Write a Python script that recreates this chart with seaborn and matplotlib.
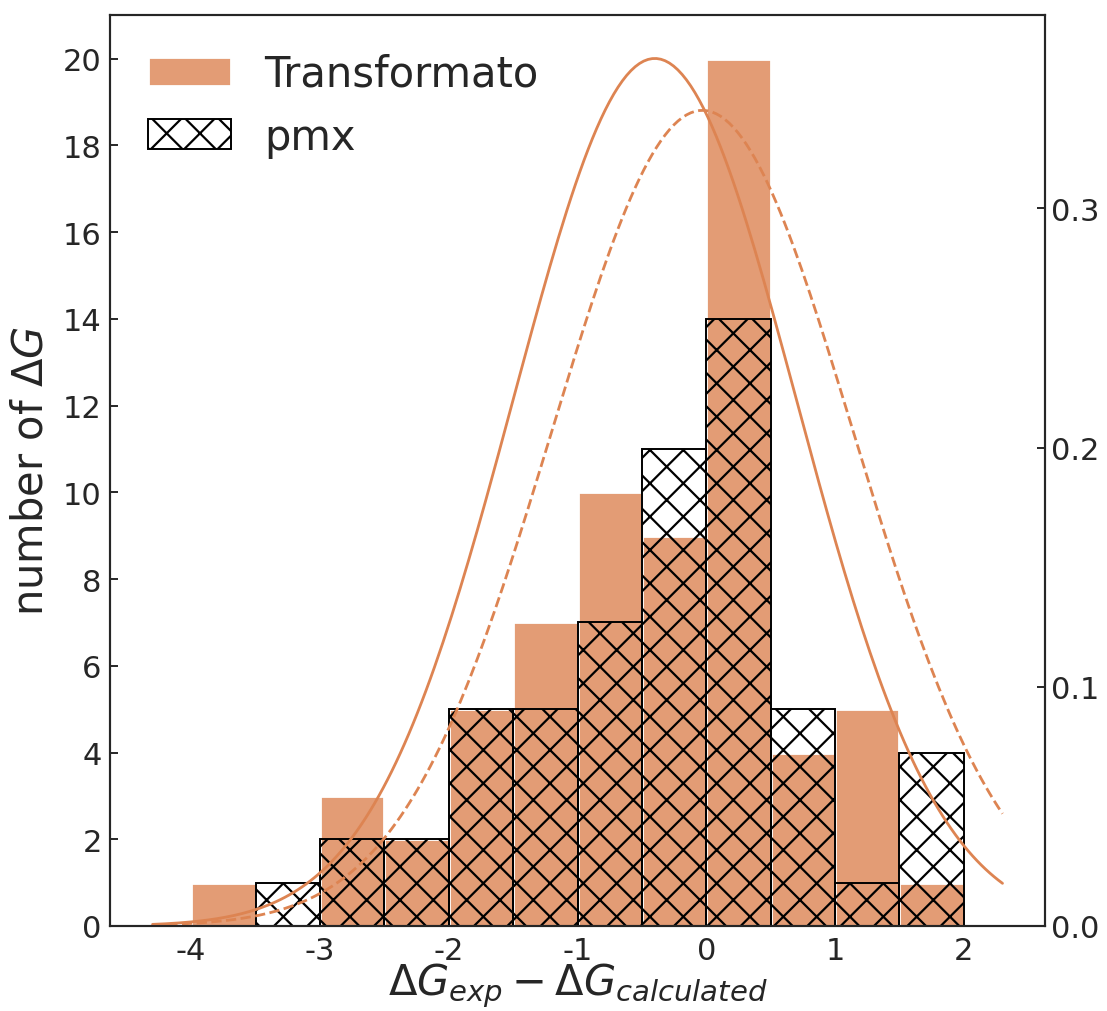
import numpy as np
import matplotlib
matplotlib.use("Agg")
import matplotlib.pyplot as plt
import seaborn as sns

# histogram bins (width 0.5) and counts
bin_edges = [-4.0, -3.5, -3.0, -2.5, -2.0, -1.5, -1.0, -0.5, 0.0, 0.5, 1.0, 1.5, 2.0]
bin_centers = [-3.75, -3.25, -2.75, -2.25, -1.75, -1.25, -0.75, -0.25, 0.25, 0.75, 1.25, 1.75]
counts_transformato = [1, 0, 3, 2, 5, 7, 10, 9, 20, 4, 5, 1]
counts_pmx = [0, 1, 2, 2, 5, 5, 7, 11, 14, 5, 1, 4]

# gaussian fits (mean, std) drawn on the right axis
fit_transformato = (-0.40, 1.10)
fit_pmx = (-0.03, 1.17)

sns.set_theme(style="white")
plt.rcParams['font.family'] = ['DejaVu Sans']
plt.rcParams['axes.unicode_minus'] = False
plt.rcParams['hatch.linewidth'] = 0.8

col = sns.color_palette("deep")[1]

fig, ax = plt.subplots(figsize=(5.535, 5.06), dpi=200)
fig.subplots_adjust(left=0.0994, right=0.944, bottom=0.084, top=0.984)

sns.histplot(x=bin_centers, weights=counts_transformato, bins=bin_edges, ax=ax,
             color=col, alpha=0.8, label='Transformato')
sns.histplot(x=bin_centers, weights=counts_pmx, bins=bin_edges, ax=ax,
             fill=False, color='black', hatch='xx', linewidth=0.7, label='pmx')

xmin, xmax = ax.get_xlim()
xs = np.linspace(xmin, xmax, 200)

def normpdf(x, mu, sd):
    return np.exp(-0.5 * ((x - mu) / sd) ** 2) / (sd * np.sqrt(2 * np.pi))

ax2 = ax.twinx()
sns.lineplot(x=xs, y=normpdf(xs, *fit_transformato), ax=ax2, color=col, linewidth=1.0)
sns.lineplot(x=xs, y=normpdf(xs, *fit_pmx), ax=ax2, color=col, linewidth=1.0, linestyle='--')
ax2.set_ylim(bottom=0)
ax2.set_yticks([0.0, 0.1, 0.2, 0.3])

ax.set_yticks(range(0, 21, 2))
ax.set_xticks([-4, -3, -2, -1, 0, 1, 2])
ax.set_ylabel(r'number of $\Delta G$', fontsize=15)
ax.set_xlabel(r'$\Delta G_{exp} - \Delta G_{calculated}$', fontsize=15, labelpad=-1.5)
ax.tick_params(axis='y', left=True, direction='in', length=3, width=0.7, pad=3, labelsize=11)
ax.tick_params(axis='x', bottom=False, length=0, pad=3.5, labelsize=11)
ax2.tick_params(axis='y', right=True, direction='in', length=3, width=0.7, pad=2, labelsize=11)
ax2.set_ylabel('')
for a in (ax, ax2):
    for s in a.spines.values():
        s.set_linewidth(0.75)

ax.legend(loc='upper left', frameon=False, fontsize=15)

fig.savefig('out.png', dpi=200)
